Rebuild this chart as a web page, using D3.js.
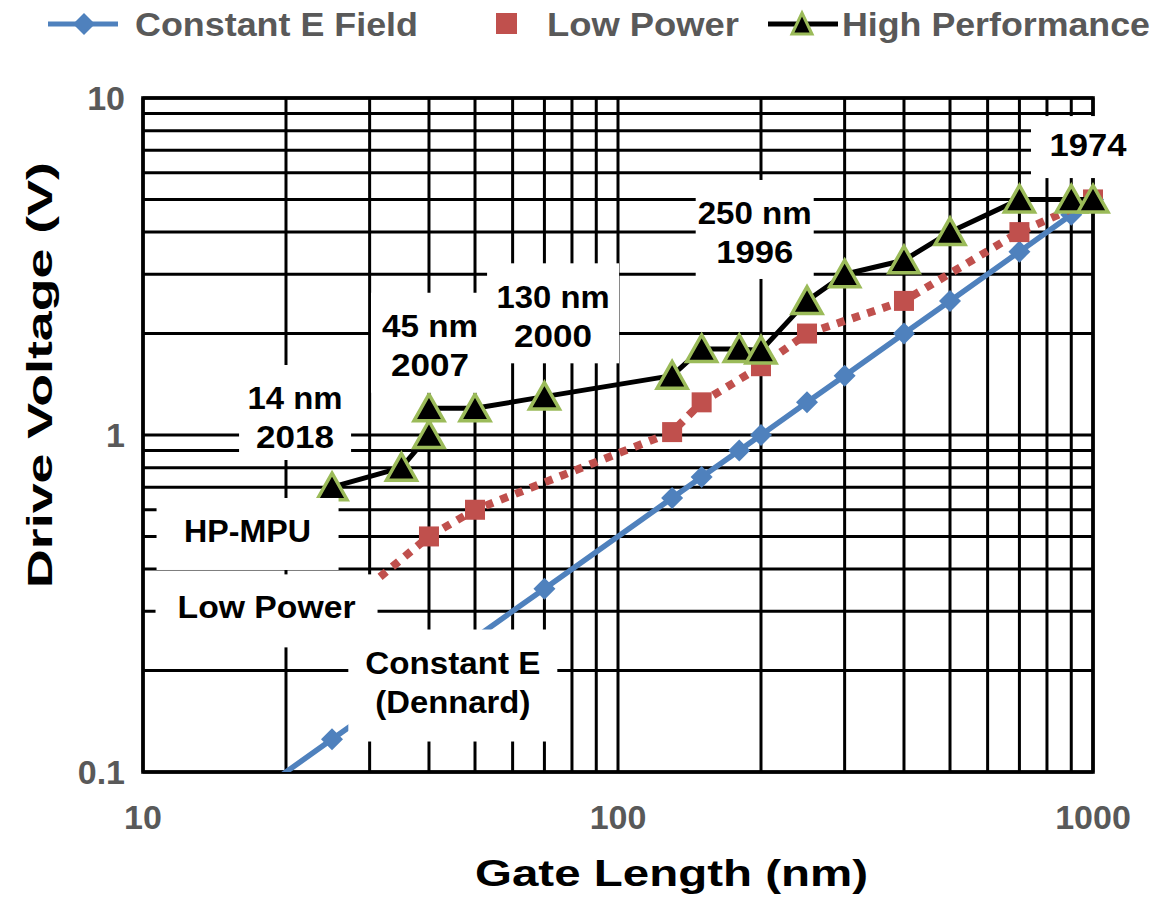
<!DOCTYPE html>
<html>
<head>
<meta charset="utf-8">
<script src="https://cdn.jsdelivr.net/npm/d3@7"></script>
<style>
  body { margin: 0; background: #fff; }
  svg { display: block; }
  text { font-family: "Liberation Sans", Arial, sans-serif; font-weight: bold; }
</style>
</head>
<body>
<div id="chart"></div>
<script>
// ---- data ----
var xTickLabels = [10, 100, 1000];
var yTickLabels = [0.1, 1, 10];

var constELength  = [14, 25, 70, 130, 150, 180, 200, 250, 300, 400, 500, 700, 900, 1000];
var constEVoltage = [0.07, 0.125, 0.35, 0.65, 0.75, 0.9, 1.0, 1.25, 1.5, 2.0, 2.5, 3.5, 4.5, 5.0];

var lowPowerLength  = [28, 40, 50, 130, 150, 200, 250, 400, 700, 1000];
var lowPowerVoltage = [0.33, 0.5, 0.6, 1.02, 1.25, 1.6, 2.0, 2.5, 4.0, 5.0];

var highPerfLength  = [25, 35, 40, 40, 50, 70, 130, 150, 180, 200, 250, 300, 400, 500, 700, 900, 1000];
var highPerfVoltage = [0.7, 0.8, 1.0, 1.2, 1.2, 1.3, 1.5, 1.8, 1.8, 1.78, 2.5, 3.0, 3.3, 4.0, 5.0, 5.0, 5.0];

var seriesNames = ["Constant E Field", "Low Power", "High Performance"];

// annotation labels, anchored in data units
var notes = [
  { len: 976,  volt: 7.25,  lines: ["1974"],                  widths: [77],       w: 114, h: 62,  dy: 2 },
  { len: 194,  volt: 3.99,  lines: ["250 nm", "1996"],        widths: [114, 77],  w: 118, h: 99,  dy: -3 },
  { len: 73,   volt: 2.25,  lines: ["130 nm", "2000"],        widths: [113, 78],  w: 132, h: 100, dy: -3 },
  { len: 40.2, volt: 1.84,  lines: ["45 nm", "2007"],         widths: [96, 78],   w: 118, h: 100, dy: -3 },
  { len: 20.9, volt: 1.127, lines: ["14 nm", "2018"],         widths: [95, 78],   w: 112, h: 95,  dy: -5 },
  { len: 16.6, volt: 0.519, lines: ["HP-MPU"],                widths: [127],      w: 182, h: 72,  dy: 3 },
  { len: 18.2, volt: 0.309, lines: ["Low Power"],             widths: [178],      w: 222, h: 73,  dy: 4 },
  { len: 44.9, volt: 0.1843,lines: ["Constant E", "(Dennard)"], widths: [175, 155], w: 209, h: 112, dy: 3 }
];

var width = 1159, height = 900;
var margin = { top: 98, right: 66, bottom: 128, left: 143 };

var svg = d3.select("#chart").append("svg")
  .attr("width", width)
  .attr("height", height);

var x = d3.scaleLog()
  .domain([10, 1000])
  .range([margin.left, width - margin.right]);

var y = d3.scaleLog()
  .domain([0.1, 10])
  .range([height - margin.bottom, margin.top]);

var x0 = x.range()[0], x1 = x.range()[1];
var y0 = y.range()[1], y1 = y.range()[0];

// grid
var grid = svg.append("g").attr("stroke", "#000").attr("stroke-width", 3);
grid.selectAll(".vline")
  .data(x.ticks())
  .join("line")
  .attr("x1", function(d){ return x(d); })
  .attr("x2", function(d){ return x(d); })
  .attr("y1", y0).attr("y2", y1);
grid.selectAll(".hline")
  .data(y.ticks())
  .join("line")
  .attr("x1", x0).attr("x2", x1)
  .attr("y1", function(d){ return y(d); })
  .attr("y2", function(d){ return y(d); });

svg.append("rect")
  .attr("x", x0).attr("y", y0)
  .attr("width", x1 - x0).attr("height", y1 - y0)
  .attr("fill", "none").attr("stroke", "#000").attr("stroke-width", 3.6);

// tick labels
svg.append("g").selectAll("text")
  .data(xTickLabels)
  .join("text")
  .attr("x", function(d){ return x(d); })
  .attr("y", 829)
  .attr("text-anchor", "middle")
  .attr("font-size", 34)
  .attr("fill", "#595959")
  .text(function(d){ return d; });

svg.append("g").selectAll("text")
  .data(yTickLabels)
  .join("text")
  .attr("x", 125)
  .attr("y", function(d){ return y(d) + 12; })
  .attr("text-anchor", "end")
  .attr("font-size", 34)
  .attr("fill", "#595959")
  .text(function(d){ return d; });

// axis titles
svg.append("text")
  .attr("x", 475).attr("y", 886)
  .attr("font-size", 37)
  .attr("fill", "#000")
  .attr("textLength", 393)
  .attr("lengthAdjust", "spacingAndGlyphs")
  .text("Gate Length (nm)");

svg.append("text")
  .attr("transform", "translate(52,375) rotate(-90)")
  .attr("text-anchor", "middle")
  .attr("font-size", 35)
  .attr("fill", "#000")
  .attr("textLength", 426)
  .attr("lengthAdjust", "spacingAndGlyphs")
  .text("Drive Voltage (V)");

// series
svg.append("clipPath").attr("id", "plotClip")
  .append("rect").attr("x", 0).attr("y", 0).attr("width", width).attr("height", y1);

var plot = svg.append("g").attr("clip-path", "url(#plotClip)");

function pairs(xs, ys) {
  return xs.map(function(v, i){ return [v, ys[i]]; });
}
var line = d3.line()
  .x(function(d){ return x(d[0]); })
  .y(function(d){ return y(d[1]); });

var diamond = "M0,-11L11,0L0,11L-11,0Z";
var triangle = "M0,-14L15,12.5L-15,12.5Z";

// constant E field
var ce = pairs(constELength, constEVoltage);
plot.append("path").attr("d", line(ce))
  .attr("fill", "none").attr("stroke", "#4F81BD").attr("stroke-width", 5.5);
plot.selectAll(".ce").data(ce).join("path")
  .attr("d", diamond)
  .attr("transform", function(d){ return "translate(" + x(d[0]) + "," + y(d[1]) + ")"; })
  .attr("fill", "#4F81BD");

// low power
var lp = pairs(lowPowerLength, lowPowerVoltage);
plot.append("path").attr("d", line(lp))
  .attr("fill", "none").attr("stroke", "#C0504D").attr("stroke-width", 8)
  .attr("stroke-dasharray", "8,8");
plot.selectAll(".lp").data(lp).join("rect")
  .attr("x", function(d){ return x(d[0]) - 10; })
  .attr("y", function(d){ return y(d[1]) - 10; })
  .attr("width", 20).attr("height", 20)
  .attr("fill", "#C0504D");

// high performance
var hp = pairs(highPerfLength, highPerfVoltage);
plot.append("path").attr("d", line(hp))
  .attr("fill", "none").attr("stroke", "#000").attr("stroke-width", 5)
  .attr("stroke-linejoin", "round");
plot.selectAll(".hp").data(hp).join("path")
  .attr("d", triangle)
  .attr("transform", function(d){ return "translate(" + x(d[0]) + "," + y(d[1]) + ")"; })
  .attr("fill", "#000").attr("stroke", "#9BBB59").attr("stroke-width", 3.5);

// annotation boxes
var ann = svg.append("g");
notes.forEach(function(n){
  var cx = x(n.len), cy = y(n.volt);
  ann.append("rect")
    .attr("x", cx - n.w / 2).attr("y", cy - n.h / 2 + n.dy)
    .attr("width", n.w).attr("height", n.h)
    .attr("fill", "#fff");
  n.lines.forEach(function(t, i){
    ann.append("text")
      .attr("x", cx)
      .attr("y", cy + (i - (n.lines.length - 1) / 2) * 39 + 11)
      .attr("text-anchor", "middle")
      .attr("font-size", 32)
      .attr("fill", "#000")
      .attr("textLength", n.widths[i])
      .attr("lengthAdjust", "spacingAndGlyphs")
      .text(t);
  });
});

// legend
var leg = svg.append("g");
leg.append("line").attr("x1", 48).attr("x2", 118).attr("y1", 24).attr("y2", 24)
  .attr("stroke", "#4F81BD").attr("stroke-width", 5);
leg.append("path").attr("d", diamond).attr("transform", "translate(84,24)").attr("fill", "#4F81BD");
leg.append("text").attr("x", 135).attr("y", 36).attr("font-size", 33).attr("fill", "#595959")
  .attr("textLength", 283).attr("lengthAdjust", "spacingAndGlyphs").text(seriesNames[0]);

leg.append("rect").attr("x", 496).attr("y", 13).attr("width", 21).attr("height", 21).attr("fill", "#C0504D");
leg.append("text").attr("x", 547).attr("y", 36).attr("font-size", 33).attr("fill", "#595959")
  .attr("textLength", 192).attr("lengthAdjust", "spacingAndGlyphs").text(seriesNames[1]);

leg.append("line").attr("x1", 768).attr("x2", 838).attr("y1", 24).attr("y2", 24)
  .attr("stroke", "#000").attr("stroke-width", 5);
leg.append("path").attr("d", "M0,-11L10,10L-10,10Z").attr("transform", "translate(802,24)")
  .attr("fill", "#000").attr("stroke", "#9BBB59").attr("stroke-width", 3);
leg.append("text").attr("x", 842).attr("y", 36).attr("font-size", 33).attr("fill", "#595959")
  .attr("textLength", 308).attr("lengthAdjust", "spacingAndGlyphs").text(seriesNames[2]);
</script>
</body>
</html>
